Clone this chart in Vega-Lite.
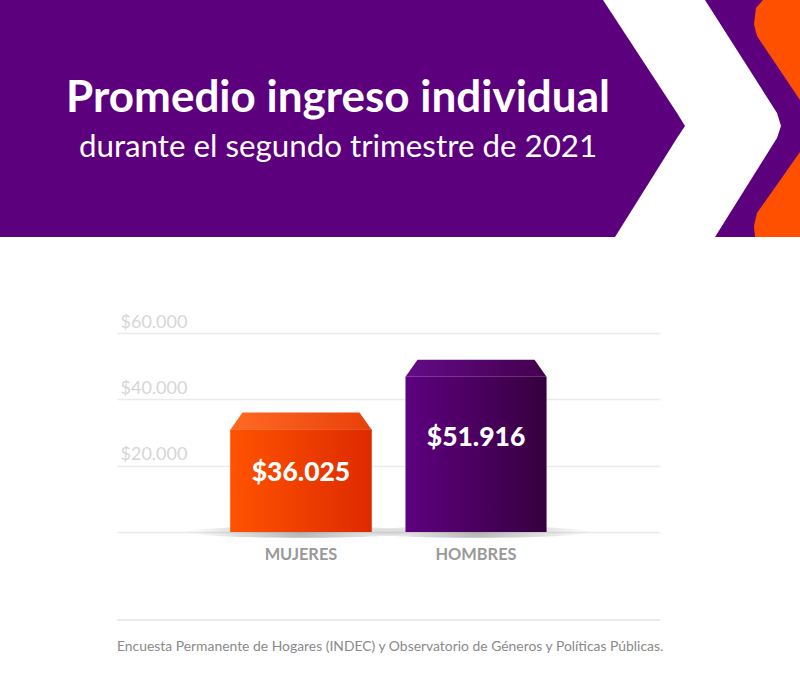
{
  "$schema": "https://vega.github.io/schema/vega-lite/v6.json",
  "background": "white",
  "padding": 0,
  "spacing": 0,
  "bounds": "flush",
  "config": {
    "view": {"stroke": null},
    "locale": {"number": {"decimal": ",", "thousands": ".", "grouping": [3], "currency": ["$", ""]}}
  },
  "vconcat": [
    {
      "width": 800,
      "height": 237,
      "layer": [
        {
          "data": {"values": [{}]},
          "mark": {"type": "rect", "color": "#5c007e"},
          "encoding": {
            "x": {"datum": 0, "type": "quantitative", "scale": {"domain": [0, 800], "nice": false}, "axis": null},
            "x2": {"datum": 800},
            "y": {"datum": 0, "type": "quantitative", "scale": {"domain": [0, 237], "nice": false, "reverse": true}, "axis": null},
            "y2": {"datum": 237}
          }
        },
        {
          "data": {"values": [
            {"y": 0, "izq": 603, "der": 705},
            {"y": 113, "izq": 677, "der": 777},
            {"y": 126, "izq": 685, "der": 781},
            {"y": 138, "izq": 677, "der": 777},
            {"y": 237, "izq": 615, "der": 715}
          ]},
          "mark": {"type": "area", "orient": "horizontal", "color": "#ffffff"},
          "encoding": {
            "y": {"field": "y", "type": "quantitative", "axis": null},
            "x": {"field": "izq", "type": "quantitative", "axis": null},
            "x2": {"field": "der"}
          }
        },
        {
          "data": {"values": [
            {"pieza": "a", "y": 0, "izq": 763, "der": 800},
            {"pieza": "a", "y": 8, "izq": 756, "der": 800},
            {"pieza": "a", "y": 24, "izq": 754, "der": 800},
            {"pieza": "a", "y": 36, "izq": 757, "der": 800},
            {"pieza": "a", "y": 100, "izq": 800, "der": 800},
            {"pieza": "b", "y": 152, "izq": 800, "der": 800},
            {"pieza": "b", "y": 213, "izq": 757, "der": 800},
            {"pieza": "b", "y": 226, "izq": 754, "der": 800},
            {"pieza": "b", "y": 237, "izq": 755, "der": 800}
          ]},
          "mark": {"type": "area", "orient": "horizontal", "color": "#ff5000"},
          "encoding": {
            "y": {"field": "y", "type": "quantitative", "axis": null},
            "x": {"field": "izq", "type": "quantitative", "axis": null},
            "x2": {"field": "der"},
            "detail": {"field": "pieza"}
          }
        },
        {
          "data": {"values": [{"t": "Promedio ingreso individual"}]},
          "mark": {"type": "text", "font": "Lato", "fontWeight": "bold", "fontSize": 44, "color": "#ffffff", "align": "center", "baseline": "alphabetic"},
          "encoding": {
            "x": {"datum": 338, "type": "quantitative", "axis": null},
            "y": {"datum": 112, "type": "quantitative", "axis": null},
            "text": {"field": "t"}
          }
        },
        {
          "data": {"values": [{"t": "durante el segundo trimestre de 2021"}]},
          "mark": {"type": "text", "font": "Lato", "fontWeight": "normal", "fontSize": 31.3, "color": "#ffffff", "align": "center", "baseline": "alphabetic"},
          "encoding": {
            "x": {"datum": 338, "type": "quantitative", "axis": null},
            "y": {"datum": 157, "type": "quantitative", "axis": null},
            "text": {"field": "t"}
          }
        }
      ]
    },
    {
      "width": 800,
      "height": 295,
      "data": {"values": [
        {"sexo": "MUJERES", "valor": 36025},
        {"sexo": "HOMBRES", "valor": 51916}
      ]},
      "encoding": {
        "x": {
          "field": "sexo", "type": "nominal",
          "sort": ["MUJERES", "HOMBRES"],
          "scale": {"domain": ["MUJERES", "HOMBRES"], "range": [117, 660], "paddingInner": 0.194, "paddingOuter": 0.648},
          "axis": {"title": null, "labelAngle": 0, "domain": false, "ticks": false, "tickSize": 0, "labelPadding": 14, "labelFont": "Lato", "labelFontWeight": "bold", "labelFontSize": 16.4, "labelColor": "#999999"}
        }
      },
      "layer": [
        {
          "mark": {"type": "bar", "yOffset": 17, "fill": {"gradient": "linear", "x1": 0, "y1": 0, "x2": 1, "y2": 0, "stops": [{"offset": 0, "color": "#ff5300"}, {"offset": 1, "color": "#de2a00"}]}},
          "transform": [{"filter": "datum.sexo === 'MUJERES'"}],
          "encoding": {
            "y": {
              "field": "valor", "type": "quantitative",
              "scale": {"domain": [0, 88945], "nice": false},
              "axis": {"title": null, "values": [0, 20000, 40000, 60000], "format": "$,.0f", "labelExpr": "datum.value === 0 ? '' : datum.label", "domain": false, "ticks": false, "tickSize": 0, "labelAlign": "left", "labelPadding": -120, "labelBaseline": "alphabetic", "labelOffset": -6, "labelFlush": false, "labelFont": "Lato", "labelFontSize": 18, "labelColor": "#d6d6d6", "gridColor": "#ebebeb", "gridWidth": 1.5}
            },
            "y2": {"datum": 0}
          }
        },
        {
          "mark": {"type": "point", "shape": "M -1 0 A 1 0.05 0 1 0 1 0 A 1 0.05 0 1 0 -1 0 Z", "size": 52900, "filled": true, "strokeWidth": 0, "opacity": 1, "fill": {"gradient": "radial", "x1": 0.5, "y1": 0.5, "r1": 0, "x2": 0.5, "y2": 0.5, "r2": 0.5, "stops": [{"offset": 0, "color": "rgba(0,0,0,0.28)"}, {"offset": 1, "color": "rgba(0,0,0,0)"}]}},
          "encoding": {"y": {"datum": 0, "type": "quantitative"}}
        },
        {
          "mark": {"type": "bar", "yOffset": 17, "fill": {"gradient": "linear", "x1": 0, "y1": 0, "x2": 1, "y2": 0, "stops": [{"offset": 0, "color": "#ff5300"}, {"offset": 1, "color": "#de2a00"}]}},
          "transform": [{"filter": "datum.sexo === 'MUJERES'"}],
          "encoding": {"y": {"field": "valor", "type": "quantitative"}, "y2": {"datum": 0}}
        },
        {
          "mark": {"type": "point", "shape": "M -0.83 0 L 0.83 0 L 1 0.241 L -1 0.241 Z", "size": 19881, "filled": true, "strokeWidth": 0, "opacity": 1, "fill": {"gradient": "linear", "x1": 0, "y1": 0, "x2": 1, "y2": 0, "stops": [{"offset": 0, "color": "#ff6a24"}, {"offset": 1, "color": "#e8400a"}]}},
          "transform": [{"filter": "datum.sexo === 'MUJERES'"}],
          "encoding": {"y": {"field": "valor", "type": "quantitative"}}
        },
        {
          "mark": {"type": "bar", "yOffset": 17, "fill": {"gradient": "linear", "x1": 0, "y1": 0, "x2": 1, "y2": 0, "stops": [{"offset": 0, "color": "#5e0080"}, {"offset": 1, "color": "#36003e"}]}},
          "transform": [{"filter": "datum.sexo === 'HOMBRES'"}],
          "encoding": {"y": {"field": "valor", "type": "quantitative"}, "y2": {"datum": 0}}
        },
        {
          "mark": {"type": "point", "shape": "M -0.83 0 L 0.83 0 L 1 0.241 L -1 0.241 Z", "size": 19881, "filled": true, "strokeWidth": 0, "opacity": 1, "fill": {"gradient": "linear", "x1": 0, "y1": 0, "x2": 1, "y2": 0, "stops": [{"offset": 0, "color": "#640a88"}, {"offset": 1, "color": "#42004c"}]}},
          "transform": [{"filter": "datum.sexo === 'HOMBRES'"}],
          "encoding": {"y": {"field": "valor", "type": "quantitative"}}
        },
        {
          "mark": {"type": "text", "font": "Lato", "fontWeight": 900, "fontSize": 26.5, "color": "#ffffff", "align": "center", "baseline": "middle", "dy": 60},
          "transform": [{"filter": "datum.sexo === 'MUJERES'"}],
          "encoding": {"y": {"field": "valor", "type": "quantitative"}, "text": {"field": "valor", "type": "quantitative", "format": "$,.0f"}}
        },
        {
          "mark": {"type": "text", "font": "Lato", "fontWeight": 900, "fontSize": 26.5, "color": "#ffffff", "align": "center", "baseline": "middle", "dy": 78},
          "transform": [{"filter": "datum.sexo === 'HOMBRES'"}],
          "encoding": {"y": {"field": "valor", "type": "quantitative"}, "text": {"field": "valor", "type": "quantitative", "format": "$,.0f"}}
        }
      ]
    },
    {
      "width": 800,
      "height": 168,
      "layer": [
        {
          "data": {"values": [{}]},
          "mark": {"type": "rule", "color": "#e3e3e3", "strokeWidth": 1.5},
          "encoding": {
            "x": {"datum": 0, "type": "quantitative", "scale": {"domain": [0, 1], "range": [117, 660], "nice": false}, "axis": null},
            "x2": {"datum": 1},
            "y": {"datum": 88, "type": "quantitative", "scale": {"domain": [0, 168], "nice": false, "reverse": true}, "axis": null}
          }
        },
        {
          "data": {"values": [{"t": "Encuesta Permanente de Hogares (INDEC) y Observatorio de Géneros y Políticas Públicas."}]},
          "mark": {"type": "text", "font": "Lato", "fontSize": 13.9, "color": "#8a8a8a", "align": "left", "baseline": "alphabetic"},
          "encoding": {
            "x": {"datum": 0, "type": "quantitative", "axis": null},
            "y": {"datum": 119, "type": "quantitative", "axis": null},
            "text": {"field": "t"}
          }
        }
      ]
    }
  ]
}
